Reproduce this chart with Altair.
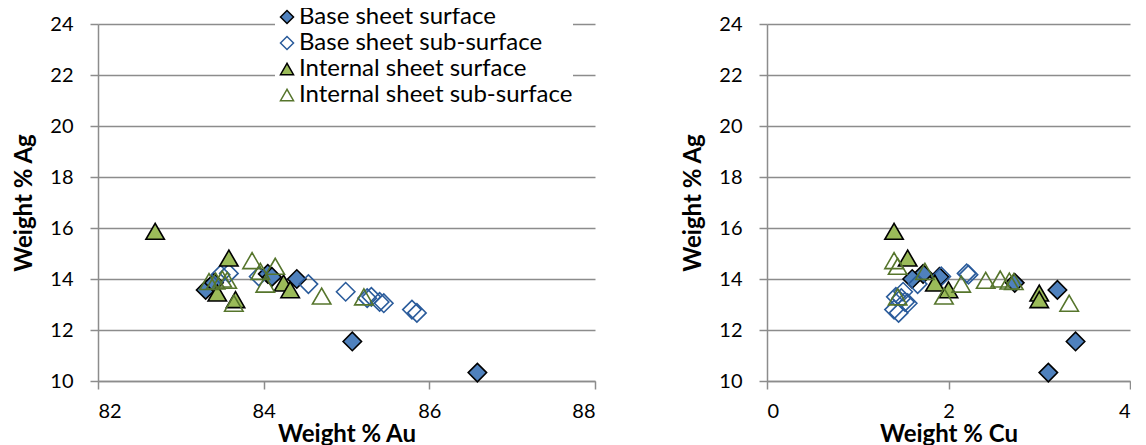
import altair as alt
import pandas as pd

series_names = [
    "Base sheet surface",
    "Base sheet sub-surface",
    "Internal sheet surface",
    "Internal sheet sub-surface",
]

# Base sheet surface
base_surf_au = [83.30, 83.40, 84.05, 84.10, 84.40, 85.07, 86.58]
base_surf_ag = [13.57, 13.85, 14.20, 14.08, 14.00, 11.55, 10.33]
base_surf_cu = [3.20, 2.73, 1.72, 1.90, 1.60, 3.40, 3.10]

# Base sheet sub-surface
base_sub_au = [83.48, 83.58, 83.94, 84.54, 84.99, 85.25, 85.30, 85.40, 85.45, 85.79, 85.85]
base_sub_ag = [14.17, 14.22, 14.10, 13.80, 13.50, 13.25, 13.30, 13.10, 13.05, 12.80, 12.67]
base_sub_cu = [2.22, 2.20, 1.92, 1.66, 1.50, 1.48, 1.42, 1.52, 1.55, 1.40, 1.45]

# Internal sheet surface
int_surf_au = [82.69, 83.58, 84.24, 84.32, 83.44, 83.66]
int_surf_ag = [15.87, 14.82, 13.84, 13.58, 13.45, 13.19]
int_surf_cu = [1.40, 1.55, 1.85, 2.00, 3.00, 3.00]

# Internal sheet sub-surface
int_sub_au = [83.86, 84.14, 83.96, 83.64, 84.02, 84.70, 85.21, 83.34, 83.42, 83.50, 83.56]
int_sub_ag = [14.72, 14.50, 14.30, 13.05, 13.80, 13.33, 13.30, 13.90, 13.92, 14.00, 13.95]
int_sub_cu = [1.40, 1.44, 1.74, 3.33, 2.14, 1.95, 1.44, 2.72, 2.67, 2.57, 2.41]

groups = [
    (series_names[0], base_surf_au, base_surf_ag, base_surf_cu),
    (series_names[1], base_sub_au, base_sub_ag, base_sub_cu),
    (series_names[2], int_surf_au, int_surf_ag, int_surf_cu),
    (series_names[3], int_sub_au, int_sub_ag, int_sub_cu),
]
rows = []
for name, au, ag, cu in groups:
    for a, g, c in zip(au, ag, cu):
        rows.append({"series": name, "Au": a, "Ag": g, "Cu": c})
df = pd.DataFrame(rows)
df["idx"] = range(len(df))

shape_scale = alt.Scale(domain=series_names,
                        range=["diamond", "diamond", "triangle-up", "triangle-up"])
fill_scale = alt.Scale(domain=series_names,
                       range=["#4F81BD", "transparent", "#9BBB59", "transparent"])
stroke_scale = alt.Scale(domain=series_names,
                         range=["#000000", "#2A5B9B", "#000000", "#56752C"])

legend = alt.Legend(
    title=None, orient="none", legendX=177, legendY=-19,
    labelFont="Lato", labelFontSize=24, labelColor="black", labelLimit=500,
    symbolSize=170, symbolStrokeWidth=1.5, rowPadding=2, labelOffset=0,
    fillColor="white", padding=0,
)

y_enc = alt.Y(
    "Ag:Q",
    scale=alt.Scale(domain=[10, 24], nice=False, zero=False),
    axis=alt.Axis(values=[10, 12, 14, 16, 18, 20, 22, 24], title="Weight % Ag",
                  labelPadding=17, titlePadding=13, grid=True),
)


def panel(xfield, domain, ticks, title, width, show_legend):
    lg = legend if show_legend else None
    return alt.Chart(df).mark_point(
        opacity=1, fillOpacity=1, strokeWidth=1.6, size=340
    ).encode(
        x=alt.X(f"{xfield}:Q",
                scale=alt.Scale(domain=domain, nice=False, zero=False),
                axis=alt.Axis(values=ticks, title=title, grid=False,
                              labelPadding=12, titlePadding=1)),
        y=y_enc,
        shape=alt.Shape("series:N", scale=shape_scale, legend=lg),
        fill=alt.Fill("series:N", scale=fill_scale, legend=lg),
        stroke=alt.Stroke("series:N", scale=stroke_scale, legend=lg),
        order=alt.Order("idx:Q"),
    ).properties(width=width, height=357)


left = panel("Au", [82, 88], [82, 84, 86, 88], "Weight % Au", 497, True)
right = panel("Cu", [0, 4], [0, 2, 4], "Weight % Cu", 363, False)

chart = alt.hconcat(left, right, spacing=85).resolve_scale(
    shape="independent", fill="independent", stroke="independent"
).resolve_legend(
    shape="independent", fill="independent", stroke="independent"
).properties(
    padding={"left": 4, "top": -3, "right": 0, "bottom": 0}
).configure_view(stroke=None).configure_axis(
    labelFont="Lato", labelFontSize=20, labelColor="black",
    titleFont="Lato", titleFontSize=24, titleFontWeight="bold", titleColor="black",
    domainColor="#8C8C8C", domainWidth=1.5,
    tickColor="#8C8C8C", tickWidth=1.5, tickSize=8,
    gridColor="#8C8C8C", gridWidth=1.5,
)

chart.save("out.html", embed_options={"renderer": "svg", "actions": False})
